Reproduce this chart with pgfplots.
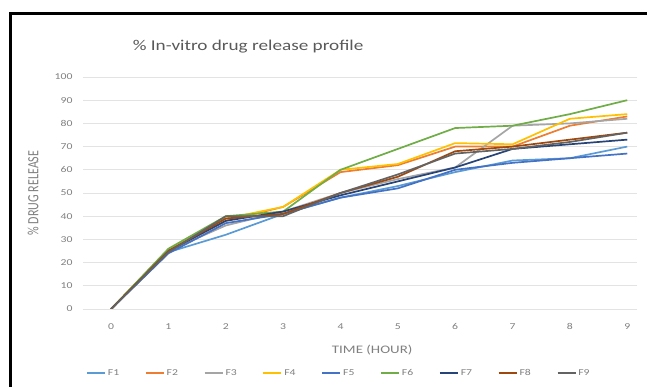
\documentclass[border=0pt]{standalone}
\usepackage{fontspec}
\setmainfont{Carlito}
\usepackage{graphicx}
\usepackage{pgfplots}
\usepackage{pgfplotstable}
\pgfplotsset{compat=1.18}

\definecolor{cF1}{HTML}{5B9BD5}
\definecolor{cF2}{HTML}{ED7D31}
\definecolor{cF3}{HTML}{A5A5A5}
\definecolor{cF4}{HTML}{FFC000}
\definecolor{cF5}{HTML}{4472C4}
\definecolor{cF6}{HTML}{70AD47}
\definecolor{cF7}{HTML}{264478}
\definecolor{cF8}{HTML}{9E480E}
\definecolor{cF9}{HTML}{636363}
\definecolor{gridc}{HTML}{E3E3E3}
\definecolor{txt}{HTML}{7F7F7F}
\definecolor{ttl}{HTML}{595959}

% wide-set text
\newcommand\sx[1]{\scalebox{1.3}[1]{#1}}

% cumulative release (%) of formulations F1-F9 against time (h)
\pgfplotstableread{
t   F1   F2  F3  F4   F5  F6  F7  F8  F9
0   0    0   0   0    0   0   0   0   0
1   24.5 25  25  25.5 24  26  25  25  24.5
2   32   38  36  39   37  40  38  39  40
3   41   44  42  44   41  42  42  41  40
4   48   59  50  60   48  60  49  50  50
5   53   62  56  62.5 52  69  55  57  58
6   59   70  61  71.5 60  78  61  68  67
7   64   70  79  71   63  79  69  70  69
8   65   79  80  82   65  84  71  73  72
9   70   83  82  84   67  90  73  76  76
}\releasedata

\begin{document}
\begin{tikzpicture}[x=1pt,y=1pt]
\path[use as bounding box] (0,0) rectangle (647,387);
% frame
\draw[line width=3pt,black] (10,-2) -- (10,373.2) -- (649,373.2);
\begin{axis}[
  at={(83pt,78pt)}, anchor=south west,
  scale only axis, width=554pt, height=232pt,
  xmin=-0.49, xmax=9.17, ymin=0, ymax=100,
  xtick={0,...,9}, ytick={0,10,...,100},
  ymajorgrids, grid style={draw=gridc, line width=0.9pt},
  axis line style={draw=none}, tick style={draw=none},
  /pgf/number format/assume math mode=true,
  xticklabel={\sx{\pgfmathprintnumber{\tick}}},
  yticklabel={\sx{\pgfmathprintnumber{\tick}}},
  tick label style={font=\fontsize{9}{10}\selectfont, text=txt},
  yticklabel style={xshift=-7pt},
  xticklabel style={yshift=-11pt},
  title={\scalebox{1.28}[1]{\% In-vitro drug release profile}},
  title style={at={(axis description cs:0.298,1.105)}, anchor=center,
    font=\fontsize{15}{17}\selectfont, text=ttl},
  xlabel={\sx{TIME (HOUR)}},
  xlabel style={at={(axis description cs:0.522,-0.177)}, anchor=center,
    font=\fontsize{11.5}{13}\selectfont, text=txt},
  ylabel={\scalebox{1}[1.3]{\% DRUG RELEASE}},
  ylabel style={at={(axis description cs:-0.090,0.5)}, anchor=center,
    rotate=0, font=\fontsize{12}{14}\selectfont, text=txt},
  legend columns=9,
  legend style={at={(axis description cs:0.462,-0.276)}, anchor=center,
    draw=none, fill=none, font=\fontsize{9}{10}\selectfont, text=txt,
    /tikz/every even column/.append style={column sep=23.8pt}},
  legend image code/.code={\draw[#1] (0pt,0pt) -- (18pt,0pt);},
  every axis plot/.append style={line width=1.7pt, line join=round},
]
\addplot[cF1] table[x=t,y=F1] {\releasedata}; \addlegendentry{\sx{F1}}
\addplot[cF2] table[x=t,y=F2] {\releasedata}; \addlegendentry{\sx{F2}}
\addplot[cF3] table[x=t,y=F3] {\releasedata}; \addlegendentry{\sx{F3}}
\addplot[cF4] table[x=t,y=F4] {\releasedata}; \addlegendentry{\sx{F4}}
\addplot[cF5] table[x=t,y=F5] {\releasedata}; \addlegendentry{\sx{F5}}
\addplot[cF6] table[x=t,y=F6] {\releasedata}; \addlegendentry{\sx{F6}}
\addplot[cF7] table[x=t,y=F7] {\releasedata}; \addlegendentry{\sx{F7}}
\addplot[cF8] table[x=t,y=F8] {\releasedata}; \addlegendentry{\sx{F8}}
\addplot[cF9] table[x=t,y=F9] {\releasedata}; \addlegendentry{\sx{F9}}
\end{axis}
\end{tikzpicture}
\end{document}
